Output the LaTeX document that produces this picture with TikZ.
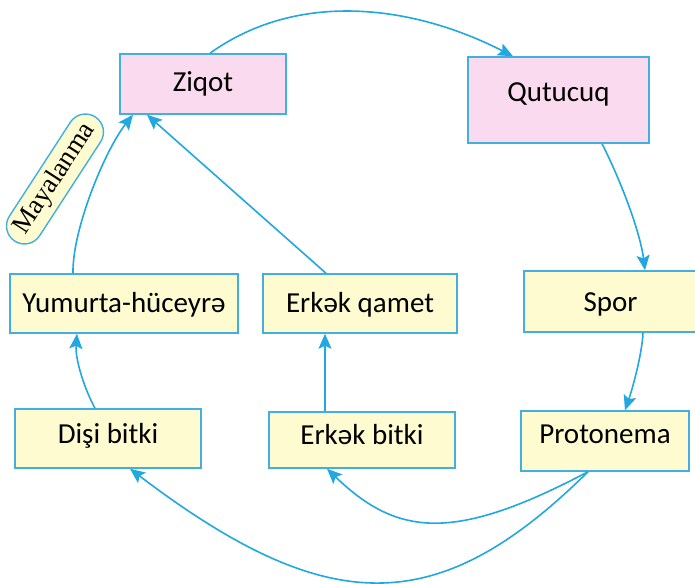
\documentclass[tikz,border=0pt]{standalone}
\usepackage{fontspec}
\setmainfont{Carlito}
\newfontfamily\serifmaya{Liberation Serif}
\usetikzlibrary{arrows.meta,shapes.misc}
\definecolor{boxblue}{HTML}{41B0E0}
\definecolor{arrowblue}{HTML}{22A8E0}
\definecolor{pinkfill}{HTML}{FADAEE}
\definecolor{yellowfill}{HTML}{FDFBCF}
\tikzset{
  stagebox/.style={draw=boxblue, line width=1.5pt, inner sep=0pt, text height=20pt,
    font=\fontsize{29}{31}\selectfont},
  pinkbox/.style={stagebox, fill=pinkfill},
  yellowbox/.style={stagebox, fill=yellowfill},
  conn/.style={draw=arrowblue, line width=1.6pt, -{Stealth[length=15pt,width=13pt,inset=3pt]}}
}
\begin{document}
\begin{tikzpicture}[x=1pt,y=-1pt]
\useasboundingbox (0,0) rectangle (695,583);
\fill[white] (0,0) rectangle (695,583);

\node[pinkbox, minimum width=166pt, minimum height=60pt, text depth=4pt] (ziqot) at (203,84) {Ziqot};
\node[pinkbox, minimum width=181pt, minimum height=86pt, text depth=16pt] (qutucuq) at (558.5,100) {Qutucuq};
\node[yellowbox, minimum width=228pt, minimum height=59pt, text depth=3pt] (yumurta) at (124,303.5) {Yumurta-hüceyrə};
\node[yellowbox, minimum width=194pt, minimum height=59pt, text depth=3pt] (qamet) at (360,303.5) {Erkək qamet};
\node[yellowbox, minimum width=173pt, minimum height=61pt, text depth=1pt] (spor) at (610.5,301.5) {Spor};
\node[yellowbox, minimum width=186pt, minimum height=59pt, text depth=11pt] (disi) at (108,438.5) {Dişi bitki};
\node[yellowbox, minimum width=186pt, minimum height=56pt, text depth=12pt] (erkek) at (362,440) {Erkək bitki};
\node[yellowbox, minimum width=168pt, minimum height=60pt, text depth=16pt] (proto) at (605,441) {Protonema};

\node[rounded rectangle, draw=boxblue, line width=1.4pt, fill=yellowfill, rotate=57,
  minimum width=152pt, minimum height=36pt, inner sep=2pt,
  font=\serifmaya\fontsize{27}{29}\selectfont] (maya) at (55,179) {Mayalanma};

% cycle connectors
\draw[conn] ([xshift=7pt]ziqot.north) .. controls (298,-10) and (413,5) .. ([xshift=-45.5pt]qutucuq.north);
\draw[conn] ([xshift=43.5pt]qutucuq.south) .. controls (620,179) and (640,231) .. ([xshift=34.5pt]spor.north);
\draw[conn] ([xshift=32.5pt]spor.south) .. controls (642,355) and (632,390) .. ([xshift=20pt]proto.north);
\draw[conn] ([xshift=-17pt]proto.south) .. controls (453,543) and (397,536) .. ([xshift=-35pt]erkek.south);
\draw[conn] ([xshift=-17pt]proto.south) .. controls (438,620) and (328,619) .. ([xshift=22pt]disi.south);
\draw[conn] ([xshift=-13pt]disi.north) .. controls (85,390) and (75,360) .. ([xshift=-47pt]yumurta.south);
\draw[conn] ([xshift=-37pt]erkek.north) -- ([xshift=-35pt]qamet.south);
\draw[conn] ([xshift=-51pt]yumurta.north) .. controls (72,230) and (105,150) .. ([xshift=-70pt]ziqot.south);
\draw[conn] ([xshift=-34pt]qamet.north) -- ([xshift=-56pt]ziqot.south);
\end{tikzpicture}
\end{document}
